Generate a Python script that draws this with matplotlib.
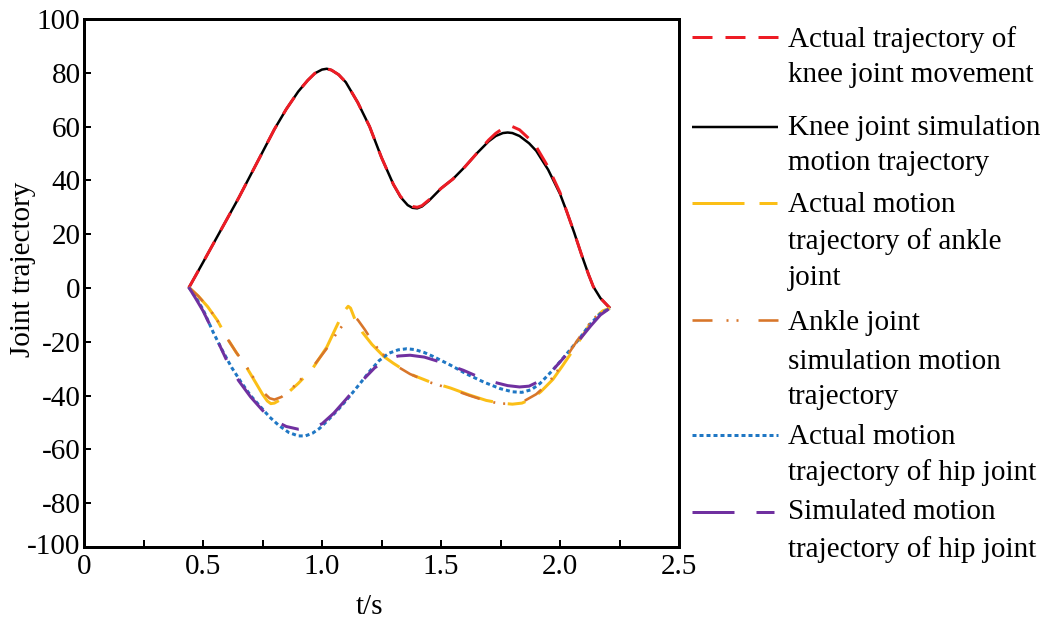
import matplotlib
matplotlib.use("Agg")
import matplotlib.pyplot as plt
from matplotlib.lines import Line2D
from matplotlib.ticker import MultipleLocator, FixedLocator

# ---------------- data ----------------
knee_act_t = [0.44, 0.50, 0.55, 0.60, 0.65, 0.70, 0.75, 0.80, 0.85, 0.90, 0.94, 0.97, 1.00, 1.02,
              1.04, 1.07, 1.10, 1.15, 1.20, 1.25, 1.30, 1.33, 1.36, 1.38, 1.40, 1.42, 1.45, 1.50,
              1.55, 1.60, 1.65, 1.70, 1.73, 1.76, 1.78, 1.80, 1.83, 1.87, 1.90, 1.95, 2.00, 2.03,
              2.06, 2.09, 2.12, 2.14, 2.17, 2.21]
knee_act_y = [0.0, 9.5, 17.5, 25.5, 33.5, 42.0, 50.5, 59.0, 66.5, 73.0, 77.2, 79.8, 81.2, 81.5,
              81.0, 79.3, 76.5, 69.0, 60.0, 48.5, 38.5, 34.0, 31.3, 30.3, 30.0, 30.6, 32.8, 37.0,
              40.5, 45.0, 50.0, 55.0, 57.5, 59.3, 60.0, 60.0, 58.8, 55.5, 52.5, 45.0, 35.5, 28.0,
              20.5, 12.5, 5.0, 0.5, -3.8, -7.5]

knee_sim_t = [0.44, 0.50, 0.55, 0.60, 0.65, 0.70, 0.75, 0.80, 0.85, 0.90, 0.94, 0.97, 1.00, 1.02,
              1.04, 1.07, 1.10, 1.15, 1.20, 1.25, 1.30, 1.33, 1.36, 1.38, 1.40, 1.42, 1.45, 1.50,
              1.55, 1.60, 1.65, 1.70, 1.73, 1.76, 1.78, 1.80, 1.83, 1.87, 1.90, 1.95, 2.00, 2.03,
              2.06, 2.09, 2.12, 2.14, 2.17, 2.21]
knee_sim_y = [0.0, 9.5, 17.5, 25.5, 33.5, 42.0, 50.5, 59.0, 66.5, 73.0, 77.2, 79.8, 81.2, 81.5,
              81.0, 79.3, 76.5, 69.0, 60.0, 48.5, 38.5, 33.8, 30.8, 29.8, 29.6, 30.3, 32.5, 37.0,
              40.5, 45.0, 50.0, 54.5, 56.5, 57.6, 57.8, 57.6, 56.5, 53.8, 51.0, 44.0, 35.0, 28.0,
              20.5, 12.5, 5.0, 0.5, -3.8, -7.5]

ankle_act_t = [0.44, 0.48, 0.52, 0.56, 0.60, 0.64, 0.683, 0.72, 0.75, 0.77, 0.785, 0.80, 0.82,
               0.85, 0.90, 0.96, 1.02, 1.06, 1.09, 1.11, 1.12, 1.14, 1.17, 1.21, 1.26, 1.30,
               1.37, 1.45, 1.54, 1.62, 1.69, 1.75, 1.80, 1.84, 1.88, 1.92, 1.97, 2.01, 2.056,
               2.10, 2.14, 2.18, 2.21]
ankle_act_y = [0.3, -3.0, -7.0, -12.0, -18.5, -24.0, -29.5, -35.0, -39.5, -42.0, -43.0, -42.8, -41.8,
               -39.5, -35.5, -30.0, -22.0, -14.5, -9.0, -6.8, -7.5, -12.0, -16.5, -21.0, -25.5, -28.0,
               -32.0, -34.8, -37.2, -39.8, -41.8, -42.8, -43.2, -42.8, -41.3, -38.5, -34.0, -29.0, -23.0,
               -17.0, -11.5, -8.5, -7.5]

ankle_sim_t = [0.44, 0.48, 0.52, 0.56, 0.60, 0.64, 0.683, 0.72, 0.75, 0.78, 0.80, 0.83, 0.86,
               0.90, 0.96, 1.02, 1.06, 1.09, 1.115, 1.13, 1.15, 1.18, 1.22, 1.26, 1.30, 1.37,
               1.45, 1.54, 1.62, 1.69, 1.75, 1.80, 1.85, 1.90, 1.95, 2.00, 2.05, 2.10, 2.14,
               2.18, 2.21]
ankle_sim_y = [0.3, -3.0, -7.0, -12.0, -18.5, -24.0, -29.3, -34.5, -38.5, -41.0, -41.5, -40.5, -38.5,
               -35.0, -29.5, -22.5, -17.0, -13.5, -11.0, -10.5, -11.8, -15.5, -21.0, -25.0, -28.3, -32.0,
               -35.0, -37.5, -40.0, -42.0, -43.0, -43.0, -42.0, -39.5, -35.5, -29.5, -22.5, -16.0, -11.5,
               -8.5, -7.5]

hip_act_t = [0.44, 0.47, 0.50, 0.543, 0.58, 0.62, 0.66, 0.70, 0.74, 0.78, 0.82, 0.86, 0.90, 0.93,
             0.96, 0.99, 1.03, 1.07, 1.103, 1.16, 1.20, 1.24, 1.28, 1.32, 1.356, 1.39, 1.43,
             1.468, 1.54, 1.608, 1.68, 1.748, 1.80, 1.84, 1.88, 1.916, 1.97, 2.028, 2.08,
             2.126, 2.17, 2.21]
hip_act_y = [0.3, -3.5, -8.0, -16.5, -23.0, -29.5, -35.0, -40.0, -44.0, -48.0, -51.2, -53.7, -55.0, -55.0,
             -54.0, -52.2, -48.7, -45.0, -41.7, -35.5, -31.0, -27.0, -24.3, -23.0, -22.6, -22.9, -24.0,
             -25.5, -28.7, -32.0, -35.0, -37.4, -38.6, -38.8, -37.8, -35.5, -30.5, -24.5, -19.0,
             -13.5, -9.5, -7.5]

hip_sim_t = [0.44, 0.47, 0.50, 0.55, 0.60, 0.65, 0.70, 0.75, 0.80, 0.85, 0.90, 0.95, 1.00, 1.05,
             1.10, 1.16, 1.22, 1.27, 1.32, 1.37, 1.43, 1.50, 1.594, 1.69, 1.78, 1.83, 1.87,
             1.91, 1.958, 2.01, 2.07, 2.13, 2.17, 2.21]
hip_sim_y = [0.3, -4.0, -8.5, -17.5, -27.0, -34.5, -40.5, -45.5, -49.3, -51.5, -52.5, -52.3, -50.5, -46.5,
             -41.5, -35.3, -29.8, -26.5, -25.3, -25.0, -25.7, -27.6, -30.6, -34.3, -36.3, -36.8, -36.5,
             -34.8, -31.7, -26.5, -20.5, -14.0, -10.0, -7.5]

legend_labels = [
    ["Actual trajectory of", "knee joint movement"],
    ["Knee joint simulation", "motion trajectory"],
    ["Actual motion", "trajectory of ankle", "joint"],
    ["Ankle joint", "simulation motion", "trajectory"],
    ["Actual motion", "trajectory of hip joint"],
    ["Simulated motion", "trajectory of hip joint"],
]
x_ticks = [0, 0.5, 1.0, 1.5, 2.0, 2.5]
x_tick_labels = ["0", "0.5", "1.0", "1.5", "2.0", "2.5"]
y_ticks = [100, 80, 60, 40, 20, 0, -20, -40, -60, -80]
y_tick_labels = ["100", "80", "60", "40", "20", "0", "-20", "-40", "-60", "-80"]
y_bottom_label = "-100"

# ---------------- styling ----------------
plt.rcParams['font.family'] = ['Liberation Serif', 'DejaVu Serif']
plt.rcParams['lines.scale_dashes'] = False
plt.rcParams['axes.unicode_minus'] = False

W, H = 1053, 625
fig = plt.figure(figsize=(W / 100, H / 100), dpi=100)
PX = 0.72  # points per pixel
FS = 21

ax_l, ax_r, ax_t, ax_b = 84, 679, 19, 547
ax = fig.add_axes([ax_l / W, 1 - ax_b / H, (ax_r - ax_l) / W, (ax_b - ax_t) / H])

def px(seq):
    return tuple(v * PX for v in seq)

styles = [
    dict(color='#ee1c25', lw=3.0 * PX, dashes=px((20, 13))),               # knee actual
    dict(color='#000000', lw=2.5 * PX, linestyle='-'),                       # knee sim
    dict(color='#fbbf17', lw=3.0 * PX, dashes=px((52, 15, 18, 15))),       # ankle actual
    dict(color='#d8762a', lw=2.6 * PX, dashes=px((20, 14, 2, 8, 2, 20))),  # ankle sim
    dict(color='#1f77c4', lw=3.0 * PX, dashes=px((4, 3))),                  # hip actual
    dict(color='#7030a0', lw=3.0 * PX, dashes=px((42, 22, 18, 22))),       # hip sim
]

series = [
    (knee_act_t, knee_act_y),
    (knee_sim_t, knee_sim_y),
    (ankle_act_t, ankle_act_y),
    (ankle_sim_t, ankle_sim_y),
    (hip_act_t, hip_act_y),
    (hip_sim_t, hip_sim_y),
]
zorders = [3, 2, 3, 4, 3, 4]
for (t, y), st, z in zip(series, styles, zorders):
    ax.plot(t, y, solid_capstyle='butt', dash_capstyle='butt', solid_joinstyle='round',
            dash_joinstyle='round', zorder=z, **st)

ax.set_xlim(0, 2.5)
ax.set_ylim(-96.3, 100)
ax.xaxis.set_major_locator(FixedLocator(x_ticks))
ax.set_xticklabels(x_tick_labels)
ax.xaxis.set_minor_locator(MultipleLocator(0.25))
ax.yaxis.set_major_locator(FixedLocator(y_ticks))
ax.set_yticklabels(y_tick_labels)

for sp in ax.spines.values():
    sp.set_linewidth(3.0 * PX)
ax.tick_params(axis='both', which='both', direction='in', width=2.0 * PX, length=5,
               labelsize=FS)
ax.tick_params(axis='x', which='both', top=False, pad=5)
ax.tick_params(axis='y', which='both', right=False, pad=2.5)
# bottom-left corner label of the y axis
ax.text(-0.0065, 0.0, y_bottom_label, transform=ax.transAxes, fontsize=FS,
        ha='right', va='center')

ax.set_xlabel("t/s", fontsize=FS)
ax.xaxis.set_label_coords(0.48, -0.089)
ax.set_ylabel("Joint trajectory", fontsize=FS)
ax.yaxis.set_label_coords(-0.081, 0.525)

# ---------------- manual legend ----------------
handle_x0, handle_x1, text_x = 692, 778, 788
handle_y = [37, 127, 203, 320, 435, 512]
line_y = [[40, 75], [128, 163], [205, 242, 278], [323, 362, 397], [437, 473], [512, 550]]
for st, hy, labels, ys in zip(styles, handle_y, legend_labels, line_y):
    ln = Line2D([handle_x0 / W, handle_x1 / W], [1 - hy / H, 1 - hy / H],
                transform=fig.transFigure, solid_capstyle='butt', dash_capstyle='butt', **st)
    fig.add_artist(ln)
    for lab, yy in zip(labels, ys):
        fig.text(text_x / W, 1 - yy / H, lab, fontsize=FS, ha='left', va='center')

fig.savefig("out.png", dpi=100)
